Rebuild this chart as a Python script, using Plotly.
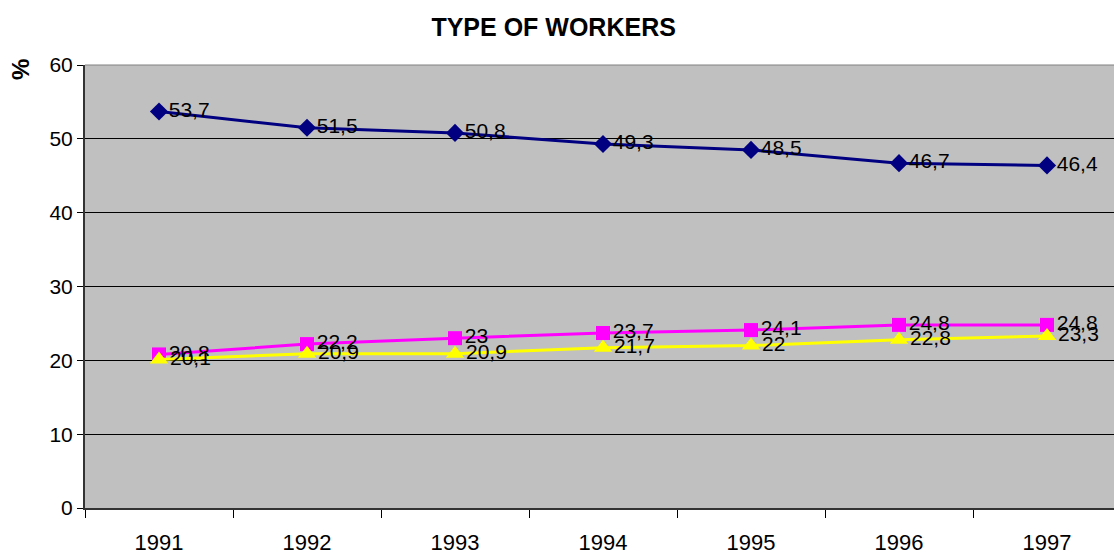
import plotly.graph_objects as go

years = ["1991", "1992", "1993", "1994", "1995", "1996", "1997"]
series_a = [53.7, 51.5, 50.8, 49.3, 48.5, 46.7, 46.4]
series_b = [20.8, 22.2, 23.0, 23.7, 24.1, 24.8, 24.8]
series_c = [20.1, 20.9, 20.9, 21.7, 22.0, 22.8, 23.3]
y_ticks = [0, 10, 20, 30, 40, 50, 60]

def lbl(vals):
    return [("%g" % v).replace(".", ",") for v in vals]

fig = go.Figure()
specs = [
    (series_a, "#000080", "diamond", 14),
    (series_b, "#FF00FF", "square", 14),
    (series_c, "#FFFF00", "triangle-up", 16),
]
for vals, col, sym, sz in specs:
    fig.add_trace(go.Scatter(
        x=years, y=vals, mode="lines+markers+text",
        line=dict(color=col, width=3),
        marker=dict(color=col, symbol=sym, size=sz),
        text=lbl(vals), textposition="middle right",
        textfont=dict(family="Liberation Sans, Arial", size=21, color="black"),
        cliponaxis=False, showlegend=False,
    ))

fig.update_layout(
    width=1114, height=556,
    margin=dict(l=85, r=0, t=65, b=48),
    paper_bgcolor="white", plot_bgcolor="#C0C0C0",
    font=dict(family="Liberation Sans, Arial", size=21, color="black"),
    title=dict(text="<b>TYPE OF WORKERS</b>", x=0.497, xanchor="center",
               y=1 - 27/556, yanchor="middle",
               font=dict(size=25, family="Liberation Sans, Arial")),
    showlegend=False,
)
fig.update_xaxes(
    type="category", range=[-0.5, -0.5 + (1114 - 85) / 148], automargin=False,
    tickson="boundaries", ticks="outside", ticklen=8, tickcolor="black",
    ticklabelstandoff=14,
    showline=True, linecolor="#333333", linewidth=2, showgrid=False,
    tickfont=dict(size=22),
)
fig.update_yaxes(
    range=[0, 60], tickvals=y_ticks, ticks="outside", ticklen=6, tickcolor="black",
    automargin=False,
    showline=True, linecolor="#333333", linewidth=2,
    showgrid=True, gridcolor="black", gridwidth=1, zeroline=False,
    tickfont=dict(size=21),
)
fig.add_annotation(
    text="<b>%</b>", xref="paper", yref="paper", x=(20 - 85) / 1029, y=1 - 5/443,
    xanchor="center", yanchor="middle", textangle=-90, showarrow=False,
    font=dict(size=24),
)
fig.add_shape(type="line", xref="paper", yref="paper", x0=0, x1=1, y0=1, y1=1,
              line=dict(color="#808080", width=1))

fig.write_html("out.html", config={"displayModeBar": False},
               post_script="document.body.style.margin='0';document.body.style.overflow='hidden';")
